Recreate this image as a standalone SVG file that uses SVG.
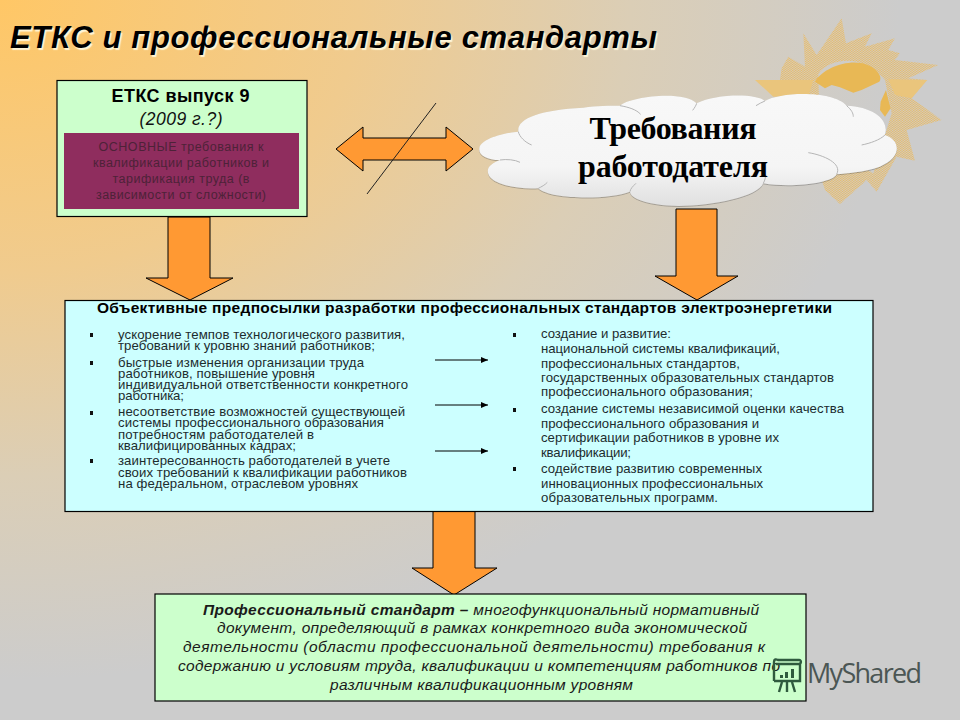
<svg xmlns="http://www.w3.org/2000/svg" width="960" height="720" viewBox="0 0 960 720">
<style>
text{font-family:"Liberation Sans",Arial,sans-serif}
.ar{fill:#FF9933;stroke:#000;stroke-width:1}
.box{stroke:#000;stroke-width:1.2}
.l{font-size:13.200px;fill:#1c2c2e}
.bul{fill:#111}
.b{font-size:15.500px;font-style:italic;fill:#1a1a1a}
.pu{font-size:12.500px;fill:#4d2238;text-anchor:middle}
.cl{font-family:"Liberation Serif",serif;font-weight:bold;font-size:32px;fill:#000;text-anchor:middle}
.crease{fill:none;stroke:#b5b5b5;stroke-width:3}
</style>
<defs>
<radialGradient id="bg" gradientUnits="userSpaceOnUse" cx="0" cy="0" r="1" gradientTransform="scale(900,680)">
<stop offset="0" stop-color="#FFC766"/><stop offset=".4" stop-color="#F0CB8E"/><stop offset=".7" stop-color="#DBCEB6"/><stop offset="1" stop-color="#CCCCCC"/>
</radialGradient>
<linearGradient id="cg" x1="0" y1="0" x2="0" y2="1">
<stop offset="0" stop-color="#F8F8F8"/><stop offset=".65" stop-color="#F5F5F5"/><stop offset="1" stop-color="#E0E0E0"/>
</linearGradient>
<pattern id="hatch" patternUnits="userSpaceOnUse" width="3.600" height="3.600" patternTransform="rotate(38)">
<rect width="2" height="3.600" fill="#E8BC6A"/>
</pattern>
<filter id="sh" x="-5%" y="-10%" width="110%" height="125%">
<feDropShadow dx="0" dy="2" stdDeviation="1.500" flood-color="#555" flood-opacity=".6"/>
</filter>
<marker id="tip" markerUnits="userSpaceOnUse" markerWidth="8" markerHeight="8" refX="7" refY="4" orient="auto">
<path d="M0 1 L7 4 L0 7Z" fill="#000"/>
</marker>
</defs>
<rect id="background" width="960" height="720" fill="url(#bg)"/>
<g id="sun-logo" transform="translate(640,0) scale(.3333)">
<path fill="url(#hatch)" fill-rule="evenodd" d="M605 55L618 130L695 100L675 140L765 115L745 150L780 160L765 180L895 195L805 235L860 240L815 295L905 360L800 390L825 482L770 470L710 575L680 540L600 612L555 570L500 400L420 240L425 205L445 170L495 200L490 100L530 165ZM535 222C570 172 670 160 735 240L755 340L700 520L540 420Z"/>
<path fill="#E8B855" d="M525 245C550 200 640 170 690 198C715 212 728 232 718 245L665 270L640 278L600 262L575 255L555 265Z"/>
<path fill="#EAC57C" d="M745 238L862 240L815 295L765 285Z"/>
<path fill="#EAC57C" d="M345 240H520L505 290H400Z"/>
<path fill="#E8B855" d="M738 270L752 325L735 350L720 330L722 305Z"/>
</g>
<text id="title" x="10" y="48" font-size="31" font-weight="bold" font-style="italic" fill="#000" textLength="647" style="text-shadow:1.500px 1.500px 1px #fff6d8">ЕТКС и профессиональные стандарты</text>
<g id="connectors">
<path id="double-arrow" class="ar" d="M336 149L363 127V138H446V127L473 149L446 171V160H363V171Z"/>
<line x1="436" y1="103" x2="367" y2="194" stroke="#222" stroke-width="1"/>
<path class="ar" d="M168 217H210V278H233L190 300L146 278H168Z"/>
<path class="ar" d="M676 209H717V276H738L697 300L655 276H676Z"/>
<path class="ar" d="M433 511H475V568H497L454 595L412 568H433Z"/>
</g>
<g id="etks">
<rect class="box" x="57" y="80.500" width="250" height="136" fill="#CCFFCC"/>
<text x="180.500" y="102" font-size="18" font-weight="bold" text-anchor="middle" fill="#000" textLength="138">ЕТКС выпуск 9</text>
<text x="181" y="125" font-size="17.500" font-style="italic" text-anchor="middle" fill="#111" textLength="83">(2009 г.?)</text>
<rect x="64" y="133" width="235" height="76" fill="#8F2D5E"/>
<text class="pu" x="181" y="151" textLength="165">ОСНОВНЫЕ требования к</text>
<text class="pu" x="181" y="167" textLength="176">квалификации работников и</text>
<text class="pu" x="181" y="183" textLength="137">тарификация труда (в</text>
<text class="pu" x="181" y="199" textLength="170">зависимости от сложности)</text>
</g>
<g id="cloud">
<g transform="translate(470,85) scale(.3333)">
<path filter="url(#sh)" fill="url(#cg)" d="M28 190C30 165 90 145 145 140C140 100 210 75 340 68C380 62 420 62 450 62C480 35 640 15 680 55C740 25 860 25 885 48C930 20 1090 15 1130 62C1210 65 1260 105 1245 150C1290 165 1300 215 1230 245C1180 262 1130 265 1100 268C1090 295 960 310 880 295C860 345 660 375 560 358C510 350 480 335 480 320C420 345 240 345 205 310C140 315 40 295 55 250C60 240 75 230 90 225C50 225 25 210 28 190Z"/>
<path class="crease" d="M145 140C148 155 165 172 185 180M90 225C110 222 135 224 150 232M450 62C475 66 500 74 512 88M680 55C678 62 674 68 668 76M885 48C875 52 868 56 858 62M1130 62C1145 75 1150 85 1150 95M1245 150C1230 165 1200 175 1175 180M1100 268C1118 235 1060 210 1015 203M480 320C482 310 488 305 498 295M205 310C215 305 225 300 232 292M880 295C885 285 888 278 885 268"/>
</g>
<text class="cl" x="673" y="139" textLength="167">Требования</text>
<text class="cl" x="673" y="177" textLength="190">работодателя</text>
</g>
<g id="prerequisites">
<rect class="box" x="65" y="300.500" width="808" height="211" fill="#CCFFFF"/>
<text x="97" y="313" font-size="15.500" font-weight="bold" fill="#000" textLength="735">Объективные предпосылки разработки профессиональных стандартов электроэнергетики</text>
<rect class="bul" x="90" y="333" width="3" height="4"/><rect class="bul" x="90" y="361" width="3" height="4"/><rect class="bul" x="90" y="411" width="3" height="4"/><rect class="bul" x="90" y="459" width="3" height="4"/>
<text class="l" x="118" y="339" textLength="287">ускорение темпов технологического развития,</text>
<text class="l" x="118" y="350" textLength="257">требований к уровню знаний работников;</text>
<text class="l" x="118" y="367" textLength="246">быстрые изменения организации труда</text>
<text class="l" x="118" y="378" textLength="197">работников, повышение уровня</text>
<text class="l" x="118" y="389" textLength="290">индивидуальной ответственности конкретного</text>
<text class="l" x="118" y="400" textLength="66">работника;</text>
<text class="l" x="118" y="416" textLength="287">несоответствие возможностей существующей</text>
<text class="l" x="118" y="427" textLength="266">системы профессионального образования</text>
<text class="l" x="118" y="439" textLength="196">потребностям работодателей в</text>
<text class="l" x="118" y="450" textLength="178">квалифицированных кадрах;</text>
<text class="l" x="118" y="465" textLength="272">заинтересованность работодателей в учете</text>
<text class="l" x="118" y="477" textLength="289">своих требований к квалификации работников</text>
<text class="l" x="118" y="488" textLength="240">на федеральном, отраслевом уровнях</text>
<rect class="bul" x="513" y="333" width="3" height="4"/><rect class="bul" x="513" y="408" width="3" height="4"/><rect class="bul" x="513" y="467" width="3" height="4"/>
<text class="l" x="541" y="338" textLength="130">создание и развитие:</text>
<text class="l" x="541" y="353" textLength="239">национальной системы квалификаций,</text>
<text class="l" x="541" y="368" textLength="199">профессиональных стандартов,</text>
<text class="l" x="541" y="382" textLength="293">государственных образовательных стандартов</text>
<text class="l" x="541" y="396" textLength="212">профессионального образования;</text>
<text class="l" x="541" y="413" textLength="303">создание системы независимой оценки качества</text>
<text class="l" x="541" y="428" textLength="218">профессионального образования и</text>
<text class="l" x="541" y="442" textLength="238">сертификации работников в уровне их</text>
<text class="l" x="541" y="457" textLength="90">квалификации;</text>
<text class="l" x="541" y="473" textLength="221">содействие развитию современных</text>
<text class="l" x="541" y="488" textLength="222">инновационных профессиональных</text>
<text class="l" x="541" y="502" textLength="177">образовательных программ.</text>
</g>
<g id="small-arrows" stroke="#000" stroke-width="1">
<line x1="435" y1="360" x2="488" y2="360" marker-end="url(#tip)"/>
<line x1="435" y1="405" x2="488" y2="405" marker-end="url(#tip)"/>
<line x1="435" y1="451" x2="488" y2="451" marker-end="url(#tip)"/>
</g>
<g id="standard">
<rect class="box" x="155" y="594" width="651" height="107" fill="#CCFFCC"/>
<text class="b" x="203" y="615" textLength="556"><tspan font-weight="bold">Профессиональный стандарт –</tspan> многофункциональный нормативный</text>
<text class="b" x="217" y="633" textLength="530">документ, определяющий в рамках конкретного вида экономической</text>
<text class="b" x="183" y="652" textLength="582">деятельности (области профессиональной деятельности) требования к</text>
<text class="b" x="178" y="671" textLength="602">содержанию и условиям труда, квалификации и компетенциям работников по</text>
<text class="b" x="330" y="690" textLength="303">различным квалификационным уровням</text>
</g>
<g id="watermark">
<g fill="none" stroke="#2F5A3E" stroke-width="2.400">
<path d="M774 681V662C774 659 776 659 778 660H799C802 660 801 664 799 664H776M800 664V681H774"/>
<path d="M779 692L782 682M787 692V682M795 692L792 682"/>
</g>
<path fill="#2F5A3E" d="M780 675h3v3h-3zM785 672h3v6h-3zM791 669h3v9h-3z"/>
<text x="807" y="683" font-size="27" style="font-family:'Open Sans','Noto Sans',sans-serif" fill="#4B5654" textLength="115">MyShared</text>
</g>
</svg>
